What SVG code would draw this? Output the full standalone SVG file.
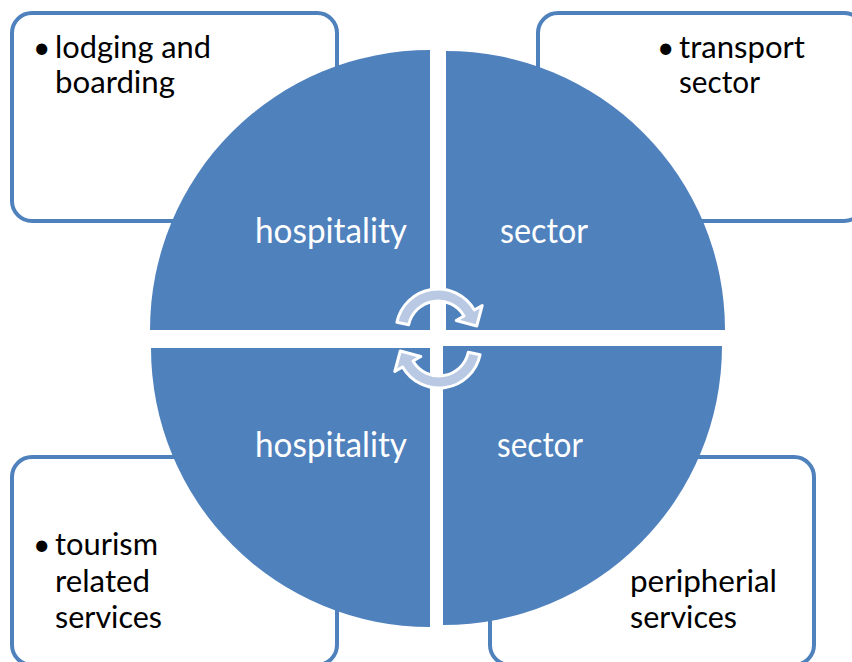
<svg xmlns="http://www.w3.org/2000/svg" width="852" height="662" viewBox="0 0 852 662">
  <style>
    .box { fill: #FFFFFF; stroke: #4F81BD; stroke-width: 4; }
    .quad { fill: #4F81BD; stroke: none; }
    .qlabel { font-family: Lato, "Liberation Sans", sans-serif; font-size: 34px; fill: #FFFFFF; }
    .blabel { font-family: Lato, "Liberation Sans", sans-serif; font-size: 30px; fill: #000000; }
    .cyc { fill: #B9C9E3; stroke: #FFFFFF; stroke-width: 3; stroke-linejoin: round; }
  </style>
  <defs>
    <!-- curved cycle arrow: band r=30..42 around (438,331), tail on the left, head on the right -->
    <path id="cycleArrow" class="cyc" d="M396.9,322.3 A42,42 0 0 1 474.4,310 L482.2,305.5 L476.7,326 L456.2,320.5 L464,316 A30,30 0 0 0 408.7,324.8 Z"/>
  </defs>

  <rect width="852" height="662" fill="#FFFFFF"/>

  <!-- corner text boxes -->
  <g id="box-lodging">
    <rect class="box" x="12" y="13" width="325" height="208" rx="20"/>
    <text class="blabel" x="33" y="58">•</text>
    <text class="blabel" x="55" y="58" textLength="156" lengthAdjust="spacingAndGlyphs">lodging and</text>
    <text class="blabel" x="55" y="93" textLength="120" lengthAdjust="spacingAndGlyphs">boarding</text>
  </g>
  <g id="box-transport">
    <rect class="box" x="538" y="13" width="326" height="208" rx="20"/>
    <text class="blabel" x="657" y="58">•</text>
    <text class="blabel" x="679" y="58" textLength="126" lengthAdjust="spacingAndGlyphs">transport</text>
    <text class="blabel" x="679" y="93" textLength="81" lengthAdjust="spacingAndGlyphs">sector</text>
  </g>
  <g id="box-tourism">
    <rect class="box" x="12" y="457" width="325" height="208" rx="20"/>
    <text class="blabel" x="33" y="555">•</text>
    <text class="blabel" x="55" y="555" textLength="103" lengthAdjust="spacingAndGlyphs">tourism</text>
    <text class="blabel" x="55" y="592" textLength="95" lengthAdjust="spacingAndGlyphs">related</text>
    <text class="blabel" x="55" y="628" textLength="107" lengthAdjust="spacingAndGlyphs">services</text>
  </g>
  <g id="box-peripherial">
    <rect class="box" x="490" y="457" width="324" height="208" rx="20"/>
    <text class="blabel" x="630" y="592" textLength="147" lengthAdjust="spacingAndGlyphs">peripherial</text>
    <text class="blabel" x="630" y="628" textLength="107" lengthAdjust="spacingAndGlyphs">services</text>
  </g>

  <!-- circle split into four quadrants -->
  <g id="quad-top-left">
    <path class="quad" d="M430,330 L150,330 A280,280 0 0 1 430,50 Z"/>
    <text class="qlabel" x="255" y="243" textLength="152" lengthAdjust="spacingAndGlyphs">hospitality</text>
  </g>
  <g id="quad-top-right">
    <path class="quad" d="M446,330 L446,51 A279,279 0 0 1 725,330 Z"/>
    <text class="qlabel" x="500" y="243" textLength="88" lengthAdjust="spacingAndGlyphs">sector</text>
  </g>
  <g id="quad-bottom-left">
    <path class="quad" d="M430,348 L430,627 A279,279 0 0 1 151,348 Z"/>
    <text class="qlabel" x="255" y="457" textLength="152" lengthAdjust="spacingAndGlyphs">hospitality</text>
  </g>
  <g id="quad-bottom-right">
    <path class="quad" d="M443,346 L722,346 A279,279 0 0 1 443,625 Z"/>
    <text class="qlabel" x="497" y="457" textLength="86" lengthAdjust="spacingAndGlyphs">sector</text>
  </g>

  <!-- central cycle arrows -->
  <g id="connectors">
    <use href="#cycleArrow"/>
    <use href="#cycleArrow" transform="rotate(180 438.5 338.5)"/>
  </g>
</svg>
